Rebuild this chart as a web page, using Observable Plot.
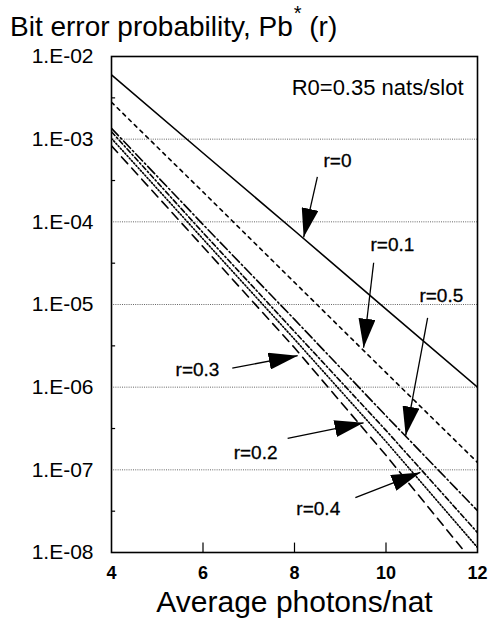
<!DOCTYPE html>
<html>
<head>
<meta charset="utf-8">
<script src="https://cdn.jsdelivr.net/npm/d3@7"></script>
<script src="https://cdn.jsdelivr.net/npm/@observablehq/plot@0.6"></script>
<style>
  body { margin: 0; background: #fff; font-family: "Liberation Sans", Arial, sans-serif; }
  #title { height: 44px; line-height: 38px; font-size: 28px; padding-left: 10px; color: #000; white-space: nowrap; overflow: visible; }
  #title sup { font-size: 20px; position: relative; top: -6px; margin-left: 1px; }
</style>
</head>
<body>
<div id="title">Bit error probability, Pb<sup>*</sup> (r)</div>
<div id="chart"></div>
<script>
// ---- data ----
const xValues = [4, 6, 8, 10, 12];
const seriesNames = ["r=0", "r=0.1", "r=0.2", "r=0.3", "r=0.4", "r=0.5"];
const pbR0  = [6.0e-3, 6.8e-4, 7.8e-5, 8.8e-6, 1.0e-6];
const pbR01 = [2.8e-3, 2.3e-4, 1.85e-5, 1.5e-6, 1.23e-7];
const pbR02 = [1.02e-3, 6.2e-5, 3.8e-6, 2.2e-7, 1.15e-8];
const pbR03 = [8.3e-4, 5.0e-5, 3.0e-6, 1.5e-7, 6.6e-9];
const pbR04 = [1.23e-3, 7.4e-5, 4.7e-6, 3.0e-7, 1.74e-8];
const pbR05 = [1.35e-3, 9.3e-5, 6.6e-6, 4.5e-7, 3.2e-8];

const yTicks = [1e-2, 1e-3, 1e-4, 1e-5, 1e-6, 1e-7, 1e-8];
const yTickLabels = ["1.E-02", "1.E-03", "1.E-04", "1.E-05", "1.E-06", "1.E-07", "1.E-08"];
const gridValues = [1e-3, 1e-4, 1e-5, 1e-6, 1e-7];
const minorYTicks = [3.16e-3, 3.16e-4, 3.16e-5, 3.16e-6, 3.16e-7, 3.16e-8];
const xTicks = [4, 6, 8, 10, 12];
const innerXTicks = [6, 8, 10];

const arrowLabels = ["r=0", "r=0.1", "r=0.5", "r=0.3", "r=0.2", "r=0.4"];
const labelX = [8.94, 10.14, 11.21, 5.88, 7.15, 8.52];
const labelY = [5.5e-4, 5.2e-5, 1.26e-5, 1.64e-6, 1.6e-7, 3.4e-8];
const tailX = [8.50, 9.73, 10.91, 6.64, 7.85, 9.33];
const tailY = [3.5e-4, 3.2e-5, 6.9e-6, 1.7e-6, 2.4e-7, 4.6e-8];
const tipX = [8.20, 9.51, 10.43, 8.07, 9.51, 10.75];
const tipY = [6.5e-5, 3.0e-6, 2.6e-7, 2.4e-6, 3.7e-7, 9.3e-8];

const annotation = "R0=0.35 nats/slot";
const xTitle = "Average photons/nat";

// ---- build tables ----
const seriesValues = [pbR0, pbR01, pbR02, pbR03, pbR04, pbR05];
const rows = seriesNames.flatMap((name, s) => xValues.map((x, i) => ({series: name, x, pb: seriesValues[s][i]})));
const arrows = arrowLabels.map((label, i) => ({label, lx: labelX[i], ly: labelY[i], x1: tailX[i], y1: tailY[i], x2: tipX[i], y2: tipY[i]}));
const tickLabelMap = new Map(yTicks.map((v, i) => [v, yTickLabels[i]]));

const dashes = {
  "r=0": null,
  "r=0.1": "3.5,4.5",
  "r=0.2": "1.3,2",
  "r=0.3": "9,6",
  "r=0.4": "5,2.5,1.5,2.5",
  "r=0.5": "10,3,1.5,3"
};

const lineMarks = seriesNames.map(name => Plot.line(rows.filter(d => d.series === name), {
  x: "x", y: "pb", stroke: "#000", strokeWidth: 1.6,
  strokeDasharray: dashes[name] ?? undefined, clip: true
}));

const chart = Plot.plot({
  width: 490,
  height: 581,
  marginTop: 12,
  marginBottom: 73,
  marginLeft: 111,
  marginRight: 13,
  style: {fontFamily: '"Liberation Sans", Arial, sans-serif', color: "#000", background: "#fff", overflow: "visible"},
  x: {domain: [4, 12]},
  y: {type: "log", domain: [1e-8, 1e-2]},
  marks: [
    Plot.ruleY(gridValues, {stroke: "#666", strokeWidth: 1, strokeDasharray: "1,1.2"}),
    Plot.ruleY(minorYTicks, {x1: 4, x2: 4.09, stroke: "#000", strokeWidth: 1.2}),
    Plot.ruleX(innerXTicks, {y1: 1e-8, y2: 1.3e-8, stroke: "#000", strokeWidth: 1.2}),
    ...lineMarks,
    Plot.link(arrows, {x1: "x1", y1: "y1", x2: "x2", y2: "y2", stroke: "#000", strokeWidth: 1.3}),
    Plot.text(arrows, {x: "lx", y: "ly", text: "label", fontSize: 19, fill: "#000", stroke: "#000", strokeWidth: 0.3, textAnchor: "middle"}),
    Plot.text([annotation], {frameAnchor: "top-right", dx: -14, dy: 31, lineAnchor: "middle", textAnchor: "end", fontSize: 22, fill: "#000"}),
    Plot.frame({stroke: "#000", strokeWidth: 1.6}),
    Plot.axisY(yTicks, {anchor: "left", tickSize: 0, tickPadding: 18, tickFormat: d => tickLabelMap.get(d), fontSize: 21, label: null, fill: "#000"}),
    Plot.axisX(xTicks, {anchor: "bottom", tickSize: 0, tickPadding: 14, tickFormat: d => String(d), fontSize: 18, fontWeight: "bold", label: null, fill: "#000"}),
    Plot.text([xTitle], {frameAnchor: "bottom", dy: 50, lineAnchor: "middle", fontSize: 30, fill: "#000"})
  ]
});

// filled triangular arrowheads on the pointer links
const ns = "http://www.w3.org/2000/svg";
const defs = document.createElementNS(ns, "defs");
const marker = document.createElementNS(ns, "marker");
marker.setAttribute("id", "filledHead");
marker.setAttribute("markerUnits", "userSpaceOnUse");
marker.setAttribute("orient", "auto");
marker.setAttribute("markerWidth", "30");
marker.setAttribute("markerHeight", "17");
marker.setAttribute("viewBox", "0 0 30 17");
marker.setAttribute("refX", "29");
marker.setAttribute("refY", "8.5");
const head = document.createElementNS(ns, "path");
head.setAttribute("d", "M0,0 L29,8.5 L0,17 Z");
head.setAttribute("fill", "#000");
head.setAttribute("stroke", "none");
marker.appendChild(head);
defs.appendChild(marker);
chart.insertBefore(defs, chart.firstChild);
chart.querySelectorAll('g[aria-label="link"] path, g[aria-label="link"] line').forEach(el => {
  el.setAttribute("marker-end", "url(#filledHead)");
});

document.getElementById("chart").appendChild(chart);
</script>
</body>
</html>
